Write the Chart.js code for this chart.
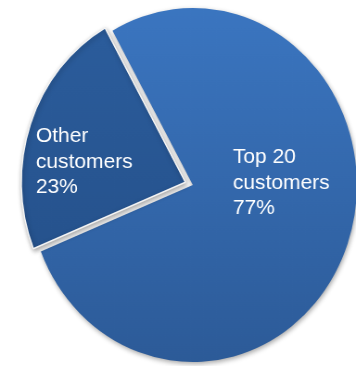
<!DOCTYPE html>
<html lang="en">
<head>
    <meta charset="UTF-8">
    <title>Customer share</title>
    <script src="https://cdn.jsdelivr.net/npm/chart.js"></script>
    <style>
        html, body { margin: 0; padding: 0; background: #fff; overflow: hidden; }
        /* the pie is drawn slightly narrower than tall */
        #wrap { position: absolute; left: 0; top: 0; width: 416px; height: 370px;
                transform: scaleX(0.927); transform-origin: 0 0; }
    </style>
</head>
<body>
    <div id="wrap">
        <canvas id="share-chart" width="416" height="370"></canvas>
    </div>

    <script>
        // Revenue share by customer group
        const labels = ['Top 20 customers', 'Other customers'];
        const shares = [77, 23];
        // label lines drawn inside each slice
        const labelLines = [['Top 20', 'customers'], ['Other', 'customers']];

        // top / bottom colour of each slice
        const sliceColors = [['#3b76c1', '#2c5a97'], ['#2c5e9e', '#234d85']];

        const SQUEEZE = 0.927;

        function sliceGradient(context) {
            const stops = sliceColors[context.dataIndex] || sliceColors[0];
            const chart = context.chart;
            const area = chart.chartArea;
            if (!area) return stops[0];
            const g = chart.ctx.createLinearGradient(0, area.top, 0, area.bottom);
            g.addColorStop(0, stops[0]);
            g.addColorStop(1, stops[1]);
            return g;
        }

        // soft drop shadow under the slices
        const shadowPlugin = {
            id: 'shadow',
            beforeDatasetsDraw(chart) {
                const ctx = chart.ctx;
                ctx.save();
                ctx.shadowColor = 'rgba(0,0,0,0.35)';
                ctx.shadowBlur = 5;
                ctx.shadowOffsetX = 1;
                ctx.shadowOffsetY = 2;
            },
            afterDatasetsDraw(chart) {
                chart.ctx.restore();
            }
        };

        // slice captions: name lines plus percentage
        // offsets are in page pixels from the pie centre; text is un-squeezed
        const captionPlugin = {
            id: 'captions',
            afterDatasetsDraw(chart) {
                const ctx = chart.ctx;
                const arcs = chart.getDatasetMeta(0).data;
                const pos = [[40, -22], [-157, -43]];
                ctx.save();
                ctx.fillStyle = '#ffffff';
                ctx.font = '21px "Liberation Sans", Arial, sans-serif';
                ctx.textAlign = 'left';
                ctx.textBaseline = 'alphabetic';
                arcs.forEach((arc, i) => {
                    const x = arc.x + pos[i][0] / SQUEEZE;
                    let y = arc.y + pos[i][1];
                    const lines = labelLines[i].concat([shares[i] + '%']);
                    lines.forEach(line => {
                        ctx.save();
                        ctx.translate(x, y);
                        ctx.scale(1 / SQUEEZE, 1);
                        ctx.fillText(line, 0, 0);
                        ctx.restore();
                        y += 25.5;
                    });
                });
                ctx.restore();
            }
        };

        const ctx = document.getElementById('share-chart').getContext('2d');
        new Chart(ctx, {
            type: 'pie',
            data: {
                labels: labels,
                datasets: [{
                    data: shares,
                    backgroundColor: sliceGradient,
                    borderColor: ['rgba(0,0,0,0)', '#f4f4f4'],
                    borderWidth: [0, 1.5],
                    offset: [0, 34]
                }]
            },
            options: {
                responsive: false,
                animation: false,
                devicePixelRatio: 1,
                rotation: -29.3,
                radius: 177,
                layout: { padding: 0 },
                plugins: {
                    legend: { display: false },
                    tooltip: { enabled: false }
                }
            },
            plugins: [shadowPlugin, captionPlugin]
        });
    </script>
</body>
</html>
